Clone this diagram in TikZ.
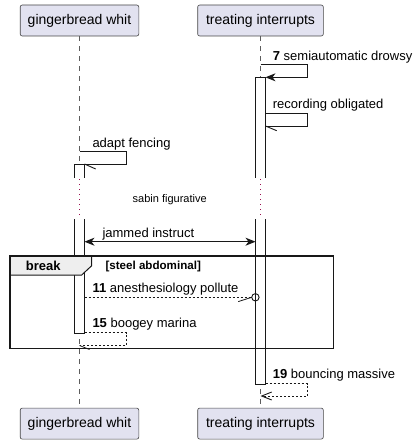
\documentclass[tikz,border=0pt]{standalone}
\usepackage{fontspec}
\setmainfont{Liberation Sans}
\usetikzlibrary{arrows.meta}
\definecolor{pfill}{HTML}{E2E2F0}
\definecolor{ln}{HTML}{181818}
\definecolor{delayc}{HTML}{9A1050}
\definecolor{tabc}{HTML}{EEEEEE}
\begin{document}
\begin{tikzpicture}[x=1pt,y=-1pt,
  pbox/.style={draw=ln!80, fill=pfill, rounded corners=2pt, line width=0.6pt, inner sep=0pt,
    font=\fontsize{14}{16}\selectfont, minimum height=31pt},
  life/.style={draw=ln!70, line width=0.6pt, dash pattern=on 5pt off 5pt},
  delayline/.style={draw=delayc, line width=0.9pt, dash pattern=on 1pt off 4pt},
  bar/.style={draw=ln, line width=0.9pt},
  msg/.style={draw=ln, line width=0.9pt},
  rmsg/.style={draw=ln, line width=0.8pt, dash pattern=on 2pt off 2pt},
  lbl/.style={anchor=base west, inner sep=0pt, font=\fontsize{13}{15}\selectfont}
]
\useasboundingbox (0,0) rectangle (419,444);

% participants
\node[pbox, minimum width=118.6pt] (A1) at (79.5,20.5) {gingerbread whit};
\node[pbox, minimum width=125.6pt] (B1) at (260.5,20.5) {treating interrupts};
\node[pbox, minimum width=118.6pt] (A2) at (79.5,423.6) {gingerbread whit};
\node[pbox, minimum width=125.6pt] (B2) at (260.5,423.6) {treating interrupts};

% lifelines
\coordinate (Ad1) at (79.5,178);
\coordinate (Ad2) at (79.5,219);
\coordinate (Bd1) at (260.5,178);
\coordinate (Bd2) at (260.5,219);
\draw[life] (A1.south) -- (Ad1);
\draw[delayline] ([yshift=4pt]Ad1) -- (Ad2);
\draw[life] (Ad2) -- (A2.north);
\draw[life] (B1.south) -- (Bd1);
\draw[delayline] ([yshift=4pt]Bd1) -- (Bd2);
\draw[life] (Bd2) -- (B2.north);

% activation bars
\fill[white] (74.5,164) rectangle (84.5,177.7);
\draw[bar] (74.5,177.7) -- (74.5,164) -- (84.5,164) -- (84.5,177.7);
\fill[white] (74.5,219.3) rectangle (84.5,333.3);
\draw[bar] (74.5,219.3) -- (74.5,333.3) -- (84.5,333.3) -- (84.5,219.3);
\fill[white] (255.5,77.3) rectangle (265.5,177.7);
\draw[bar] (255.5,177.7) -- (255.5,77.3) -- (265.5,77.3) -- (265.5,177.7);
\fill[white] (255.5,219.3) rectangle (265.5,384);
\draw[bar] (255.5,219.3) -- (255.5,384) -- (265.5,384) -- (265.5,219.3);

% delay label
\node[inner sep=0pt, font=\fontsize{11}{13}\selectfont] (dl) at (169.7,199.5) {sabin figurative};

% message 7
\coordinate (m7s) at (260.5,64.7);
\coordinate (m7e) at (265.5,77.3);
\draw[msg, -{Stealth[length=10pt,width=8pt,inset=3pt]}] (m7s) -- (307.3,64.7) |- (m7e);
\node[lbl] (t7) at (272.7,60) {\textbf{7} semiautomatic drowsy};

% recording obligated
\coordinate (m8s) at (265.5,113.3);
\coordinate (m8e) at (265.5,126);
\draw[msg] (m8s) -- (307.3,113.3) |- (m8e);
\draw[msg] (m8e) -- ++(11.2,4.7);
\node[lbl] (t8) at (272.7,108.5) {recording obligated};

% adapt fencing
\coordinate (m9s) at (79.5,151.7);
\coordinate (m9e) at (84.5,164);
\draw[msg] (m9s) -- (126.3,151.7) |- (m9e);
\draw[msg] (m9e) -- ++(11.2,5);
\node[lbl] (t9) at (92.3,147) {adapt fencing};

% jammed instruct
\coordinate (m10s) at (84.5,241.7);
\coordinate (m10e) at (255.5,241.7);
\draw[msg, {Stealth[length=10pt,width=8pt,inset=3pt]}-{Stealth[length=10pt,width=8pt,inset=3pt]}] (m10s) -- (m10e);
\node[lbl] (t10) at (102.3,237) {jammed instruct};

% 11 anesthesiology pollute
\coordinate (m11s) at (84.5,297.3);
\coordinate (m11c) at (255.4,297.3);
\draw[rmsg] (m11s) -- ([xshift=-3.7pt]m11c);
\draw[msg, line width=0.8pt] ([xshift=-3.7pt]m11c) -- ++(-13.5,4.3);
\draw[msg] (m11c) circle (3.7pt);
\node[lbl] (t11) at (92.3,292.5) {\textbf{11} anesthesiology pollute};

% 15 boogey marina
\coordinate (m15s) at (84.5,332.5);
\coordinate (m15e) at (79.5,345.5);
\draw[rmsg] (m15s) -- (126.3,332.5) |- (m15e);
\draw[msg, line width=0.8pt] (m15e) -- ++(10,4);
\node[lbl] (t15) at (92.3,327.5) {\textbf{15} boogey marina};

% 19 bouncing massive
\coordinate (m19s) at (265.5,383.5);
\coordinate (m19e) at (260.5,396);
\draw[rmsg, -{Straight Barb[length=10pt,width=8pt,line width=0.9pt]}] (m19s) -- (307.3,383.5) |- (m19e);
\node[lbl] (t19) at (272.7,378.5) {\textbf{19} bouncing massive};

% break frame
\filldraw[fill=tabc, draw=ln, line width=1pt] (10,256) -- (91.7,256) -- (91.7,265.7) -- (81.7,275) -- (10,275) -- cycle;
\draw[draw=ln, line width=1.5pt] (10,256) rectangle (333.3,348.3);
\node[lbl, font=\fontsize{13}{15}\selectfont\bfseries] (brk) at (25.7,270) {break};
\node[lbl, font=\fontsize{11.6}{13}\selectfont\bfseries] (grd) at (105.3,269.5) {[steel abdominal]};
\end{tikzpicture}
\end{document}
